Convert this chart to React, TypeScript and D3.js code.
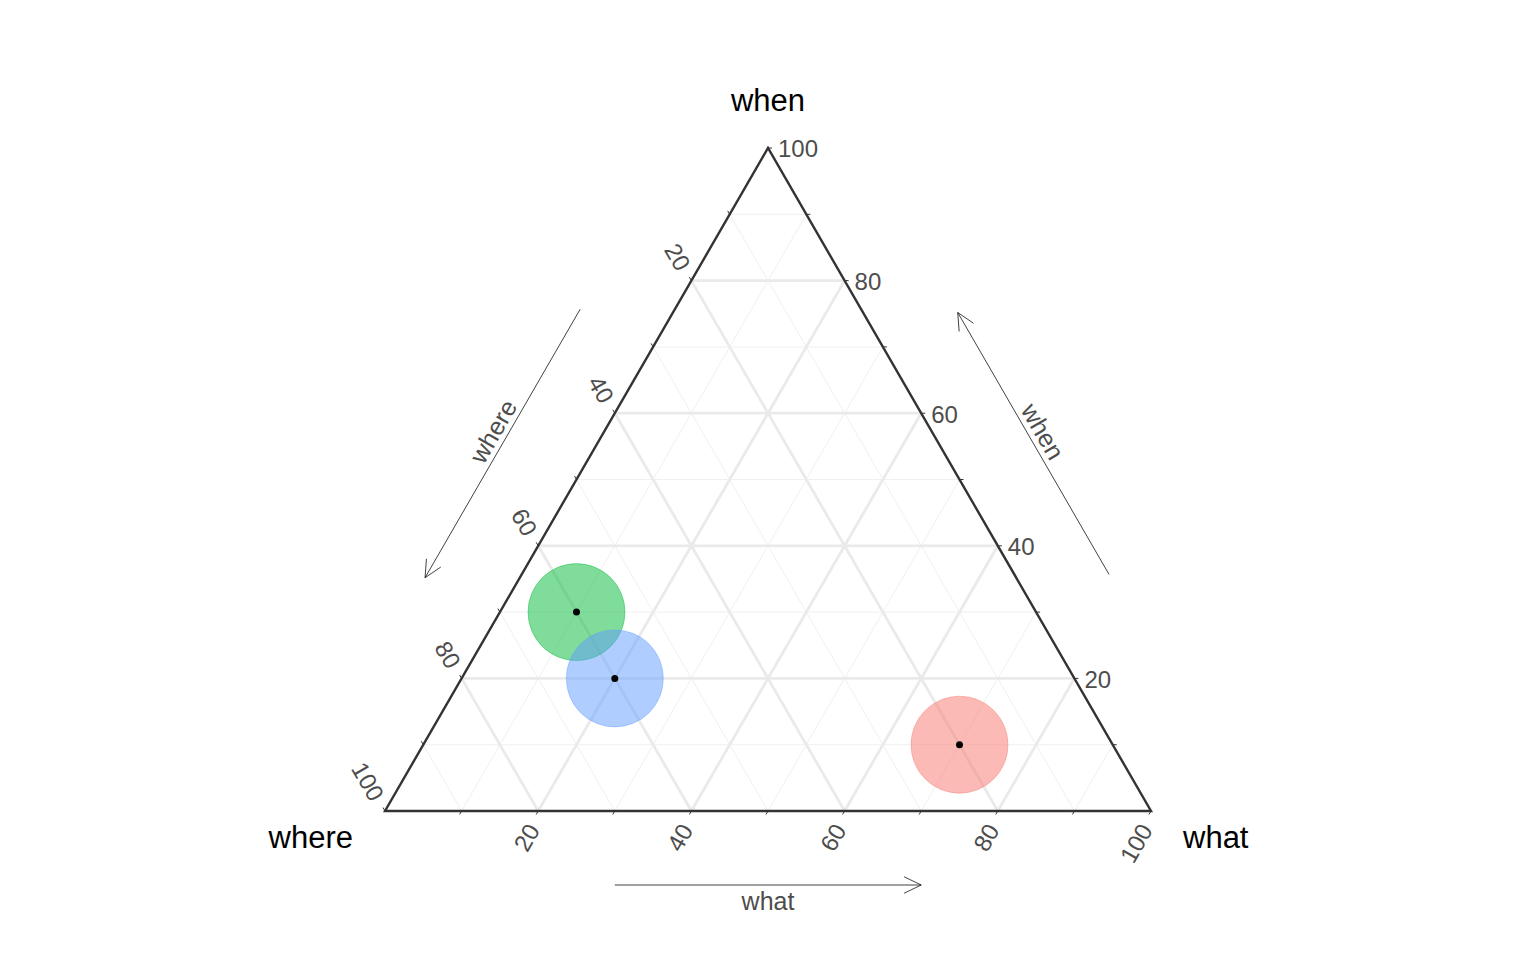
import * as d3 from "d3";
import React, { useEffect, useRef } from "react";

// ternary data: what / when / where (percent)
const whatValues = [70, 10, 20];
const whenValues = [10, 30, 20];
const whereValues = [20, 60, 60];
const pointColors = ["#F8766D", "#00BA38", "#619CFF"];

const majorTicks = [20, 40, 60, 80];
const minorTicks = [10, 30, 50, 70, 90];
const labelTicks = [20, 40, 60, 80, 100];
const allTicks = [10, 20, 30, 40, 50, 60, 70, 80, 90, 100];

const axisTitles = { top: "when", left: "where", right: "what" };

function drawChart(el: SVGSVGElement) {
  const svg = d3.select(el);
  svg.selectAll("*").remove();

  // triangle: bottom-left = where, bottom-right = what, top = when
  const xScale = d3.scaleLinear().domain([0, 100]).range([385, 1151]);
  const yScale = d3.scaleLinear().domain([0, 100]).range([811, 148]);
  const proj = (what: number, when: number) => [xScale(what + when / 2), yScale(when)];

  const g = svg.append("g");

  // grid lines
  const gridLine = (v: number, major: boolean) => {
    const s = 100 - v;
    const style = (sel: any) =>
      sel.attr("stroke", major ? "#EAEAEA" : "#F0F0F0").attr("stroke-width", major ? 2.8 : 1).attr("fill", "none");
    // when = v (horizontal)
    let a = proj(0, v), b = proj(s, v);
    style(g.append("line").attr("x1", a[0]).attr("y1", a[1]).attr("x2", b[0]).attr("y2", b[1]));
    // what = v
    a = proj(v, 0); b = proj(v, s);
    style(g.append("line").attr("x1", a[0]).attr("y1", a[1]).attr("x2", b[0]).attr("y2", b[1]));
    // where = v
    a = proj(s, 0); b = proj(0, s);
    style(g.append("line").attr("x1", a[0]).attr("y1", a[1]).attr("x2", b[0]).attr("y2", b[1]));
  };
  minorTicks.forEach(v => gridLine(v, false));
  majorTicks.forEach(v => gridLine(v, true));

  // tick marks
  const tickLen = 4;
  allTicks.forEach(v => {
    // when ticks on right edge, pointing right
    let p = proj(100 - v, v);
    g.append("line").attr("x1", p[0]).attr("y1", p[1]).attr("x2", p[0] + tickLen).attr("y2", p[1])
      .attr("stroke", "#333").attr("stroke-width", 1);
    // where ticks on left edge, pointing up-left
    p = proj(0, 100 - v);
    g.append("line").attr("x1", p[0]).attr("y1", p[1]).attr("x2", p[0] - tickLen * 0.5).attr("y2", p[1] - tickLen * 0.866)
      .attr("stroke", "#333").attr("stroke-width", 1);
    // what ticks on bottom edge, pointing down-left
    p = proj(v, 0);
    g.append("line").attr("x1", p[0]).attr("y1", p[1]).attr("x2", p[0] - tickLen * 0.5).attr("y2", p[1] + tickLen * 0.866)
      .attr("stroke", "#333").attr("stroke-width", 1);
  });

  // triangle border
  const corners = [proj(0, 0), proj(100, 0), proj(0, 100)];
  g.append("path")
    .attr("d", d3.line()(corners as [number, number][]) + "Z")
    .attr("fill", "none")
    .attr("stroke", "#333333")
    .attr("stroke-width", 2.4)
    .attr("stroke-linejoin", "miter");

  // tick labels
  const font = "Liberation Sans, Arial, sans-serif";
  const tickSize = 24;
  labelTicks.forEach(v => {
    let p = proj(100 - v, v);
    g.append("text").attr("x", p[0] + 10).attr("y", p[1] + 3)
      .attr("dominant-baseline", "middle").attr("font-size", tickSize).attr("fill", "#4D4D4D")
      .attr("font-family", font).text(v);
    p = proj(0, 100 - v);
    g.append("text").attr("transform", `translate(${p[0] - 9},${p[1] - 11}) rotate(60)`)
      .attr("text-anchor", "end").attr("dominant-baseline", "middle").attr("font-size", tickSize).attr("fill", "#4D4D4D")
      .attr("font-family", font).text(v);
    p = proj(v, 0);
    g.append("text").attr("transform", `translate(${p[0] - 3},${p[1] + 16}) rotate(-60)`)
      .attr("text-anchor", "end").attr("dominant-baseline", "middle").attr("font-size", tickSize).attr("fill", "#4D4D4D")
      .attr("font-family", font).text(v);
  });

  // arrows
  const arrow = (x1: number, y1: number, x2: number, y2: number) => {
    const ang = Math.atan2(y2 - y1, x2 - x1);
    const len = 19, spread = 0.45;
    const h1 = [x2 - len * Math.cos(ang - spread), y2 - len * Math.sin(ang - spread)];
    const h2 = [x2 - len * Math.cos(ang + spread), y2 - len * Math.sin(ang + spread)];
    g.append("path")
      .attr("d", `M${x1},${y1}L${x2},${y2}M${h1[0]},${h1[1]}L${x2},${y2}L${h2[0]},${h2[1]}`)
      .attr("fill", "none").attr("stroke", "#111").attr("stroke-width", 0.8);
  };
  const sideOff = 82, botOff = 74;
  const arrowLabelSize = 25;
  // what arrow (bottom)
  {
    const a = proj(30, 0), b = proj(70, 0);
    arrow(a[0], a[1] + botOff, b[0], b[1] + botOff);
    const m = proj(50, 0);
    g.append("text").attr("x", m[0]).attr("y", m[1] + botOff + 18)
      .attr("text-anchor", "middle").attr("dominant-baseline", "middle").attr("font-size", arrowLabelSize)
      .attr("fill", "#4D4D4D").attr("font-family", font).text(axisTitles.right);
  }
  // where arrow (left side), points down toward where corner
  {
    const nx = -0.866, ny = -0.5;
    const a = proj(0, 69.5), b = proj(0, 29);
    arrow(a[0] + nx * sideOff, a[1] + ny * sideOff, b[0] + nx * sideOff, b[1] + ny * sideOff);
    const m = proj(0, 50);
    const o = sideOff + 12;
    g.append("text").attr("transform", `translate(${m[0] + nx * o},${m[1] + ny * o}) rotate(-60)`)
      .attr("text-anchor", "middle").attr("dominant-baseline", "middle").attr("font-size", arrowLabelSize)
      .attr("fill", "#4D4D4D").attr("font-family", font).text(axisTitles.left);
  }
  // when arrow (right side), points up toward when corner
  {
    const nx = 0.866, ny = -0.5;
    const a = proj(70.5, 29.5), b = proj(31, 69);
    arrow(a[0] + nx * sideOff, a[1] + ny * sideOff, b[0] + nx * sideOff, b[1] + ny * sideOff);
    const m = proj(50, 50);
    const o = sideOff + 12;
    g.append("text").attr("transform", `translate(${m[0] + nx * o},${m[1] + ny * o}) rotate(60)`)
      .attr("text-anchor", "middle").attr("dominant-baseline", "middle").attr("font-size", arrowLabelSize)
      .attr("fill", "#4D4D4D").attr("font-family", font).text(axisTitles.top);
  }

  // corner titles
  const titleSize = 31;
  const top = proj(0, 100), left = proj(0, 0), right = proj(100, 0);
  g.append("text").attr("x", top[0]).attr("y", top[1] - 45).attr("text-anchor", "middle")
    .attr("dominant-baseline", "middle").attr("font-size", titleSize).attr("fill", "#000")
    .attr("font-family", font).text(axisTitles.top);
  g.append("text").attr("x", left[0] - 32).attr("y", left[1] + 29).attr("text-anchor", "end")
    .attr("dominant-baseline", "middle").attr("font-size", titleSize).attr("fill", "#000")
    .attr("font-family", font).text(axisTitles.left);
  g.append("text").attr("x", right[0] + 32).attr("y", right[1] + 29).attr("text-anchor", "start")
    .attr("dominant-baseline", "middle").attr("font-size", titleSize).attr("fill", "#000")
    .attr("font-family", font).text(axisTitles.right);

  // points
  const pts = whatValues.map((w, i) => ({ what: w, when: whenValues[i], where: whereValues[i], color: pointColors[i] }));
  g.append("g").selectAll("circle")
    .data(pts)
    .join("circle")
    .attr("cx", d => proj(d.what, d.when)[0])
    .attr("cy", d => proj(d.what, d.when)[1])
    .attr("r", 48.5)
    .attr("fill", d => d.color)
    .attr("fill-opacity", 0.5)
    .attr("stroke", d => d.color)
    .attr("stroke-opacity", 0.4)
    .attr("stroke-width", 1);
  g.append("g").selectAll("circle")
    .data(pts)
    .join("circle")
    .attr("cx", d => proj(d.what, d.when)[0])
    .attr("cy", d => proj(d.what, d.when)[1])
    .attr("r", 3.5)
    .attr("fill", "#000");
}

export default function App() {
  const ref = useRef<SVGSVGElement>(null);
  useEffect(() => {
    if (ref.current) drawChart(ref.current);
  }, []);
  return (
    <svg
      ref={ref}
      width={1536}
      height={960}
      style={{ position: "absolute", left: 0, top: 0, background: "#fff" }}
    />
  );
}
